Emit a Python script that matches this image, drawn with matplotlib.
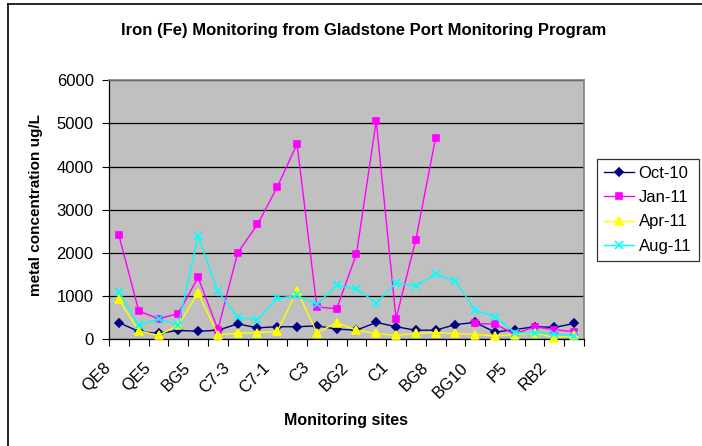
import numpy as np
import matplotlib
matplotlib.use("Agg")
import matplotlib.pyplot as plt
import matplotlib.transforms as mtransforms
from matplotlib.lines import Line2D

plt.rcParams["font.family"] = ["Liberation Sans", "DejaVu Sans"]
plt.rcParams["font.size"] = 12

# Monitoring sites along the x axis (every second one is labelled)
sites = [
    "QE8", "QE6", "QE5", "BG4", "BG5", "C7-4", "C7-3", "C7-2",
    "C7-1", "C4", "C3", "C2", "BG2", "BG1", "C1", "BG7",
    "BG8", "BG9", "BG10", "P4", "P5", "RB1", "RB2", "RB3",
]

# Iron concentrations (ug/L) per sampling round
oct_10 = [390, 185, 140, 210, 190, 215, 360, 270, 295, 295, 315, 240,
          215, 395, 295, 215, 215, 345, 395, 170, 230, 295, 280, 370]
jan_11 = [2410, 660, 480, 600, 1440, 230, 2005, 2660, 3525, 4520, 755, 710,
          1975, 5050, 480, 2305, 4665, np.nan, 370, 355, 125, 295, 225, 180]
apr_11 = [925, 200, 95, 330, 1080, 110, 140, 160, 185, 1125, 160, 385,
          215, 140, 95, 140, 160, 140, 115, 85, 115, 160, 40, 95]
aug_11 = [1100, 325, 480, 330, 2390, 1120, 510, 450, 950, 1020, 815, 1250,
          1170, 850, 1310, 1235, 1520, 1350, 680, 525, 155, 155, 125, 80]

series = [
    ("Oct-10", oct_10, "#000080", "D", 4.2),
    ("Jan-11", jan_11, "#FF00FF", "s", 5.0),
    ("Apr-11", apr_11, "#FFFF00", "^", 5.5),
    ("Aug-11", aug_11, "#00FFFF", "x", 5.5),
]

fig = plt.figure(figsize=(7.02, 4.46), dpi=100, facecolor="white")
ax = fig.add_axes([0.1553, 0.2388, 0.6767, 0.5818])
ax.set_facecolor("#C0C0C0")

x = np.arange(len(sites))
for name, vals, col, mk, ms in series:
    ax.plot(x, vals, color=col, lw=1.0, marker=mk, markersize=ms,
            markeredgecolor=col, markerfacecolor=col, markeredgewidth=1.2,
            label=name, clip_on=False, zorder=3)

ax.set_xlim(-0.5, len(sites) - 0.5)
ax.set_ylim(0, 6000)
ax.set_yticks(range(0, 6001, 1000))
ax.yaxis.grid(True, color="black", lw=0.9)
ax.set_axisbelow(True)

# category boundaries carry the tick marks, labels sit on every second site
ax.set_xticks(np.arange(-0.5, len(sites), 1.0), minor=True)
ax.set_xticks(x[::2])
ax.set_xticklabels(sites[::2], rotation=45, ha="right", va="center",
                   rotation_mode="anchor", fontsize=12)
ax.tick_params(axis="x", which="major", length=0, pad=18.5)
ax.tick_params(axis="x", which="minor", length=5, width=0.8, direction="out")
ax.tick_params(axis="y", length=5, width=0.8, direction="out", labelsize=12, pad=6)
shift = mtransforms.ScaledTranslation(-10 / 100, 0, fig.dpi_scale_trans)
for lbl in ax.get_xticklabels():
    lbl.set_transform(lbl.get_transform() + shift)

for s in ("top", "right"):
    ax.spines[s].set_color("#808080")
    ax.spines[s].set_linewidth(1.2)
for s in ("left", "bottom"):
    ax.spines[s].set_color("black")
    ax.spines[s].set_linewidth(0.9)

fig.text(36 / 702, 1 - 205 / 446, "metal concentration ug/L", rotation=90,
         ha="center", va="center", fontsize=11, fontweight="bold")
fig.text(346.5 / 702, 1 - 420 / 446, "Monitoring sites",
         ha="center", va="center", fontsize=11.5, fontweight="bold")
fig.text(364 / 702, 1 - 30 / 446,
         "Iron (Fe) Monitoring from Gladstone Port Monitoring Program",
         ha="center", va="center", fontsize=12, fontweight="bold")

leg = ax.legend(loc="center left", bbox_to_anchor=(1.027, 0.5),
                frameon=True, fancybox=False, edgecolor="black",
                handlelength=1.8, handletextpad=0.25, borderpad=0.45,
                labelspacing=0.55, fontsize=12, borderaxespad=0)
leg.get_frame().set_linewidth(0.9)

# chart-area frame (left and top edges)
fig.add_artist(Line2D([8 / 702, 8 / 702], [0, 1 - 4 / 446], color="black", lw=1.2))
fig.add_artist(Line2D([8 / 702, 1], [1 - 4 / 446, 1 - 4 / 446], color="black", lw=1.2))

fig.savefig("out.png", dpi=100, facecolor="white")
